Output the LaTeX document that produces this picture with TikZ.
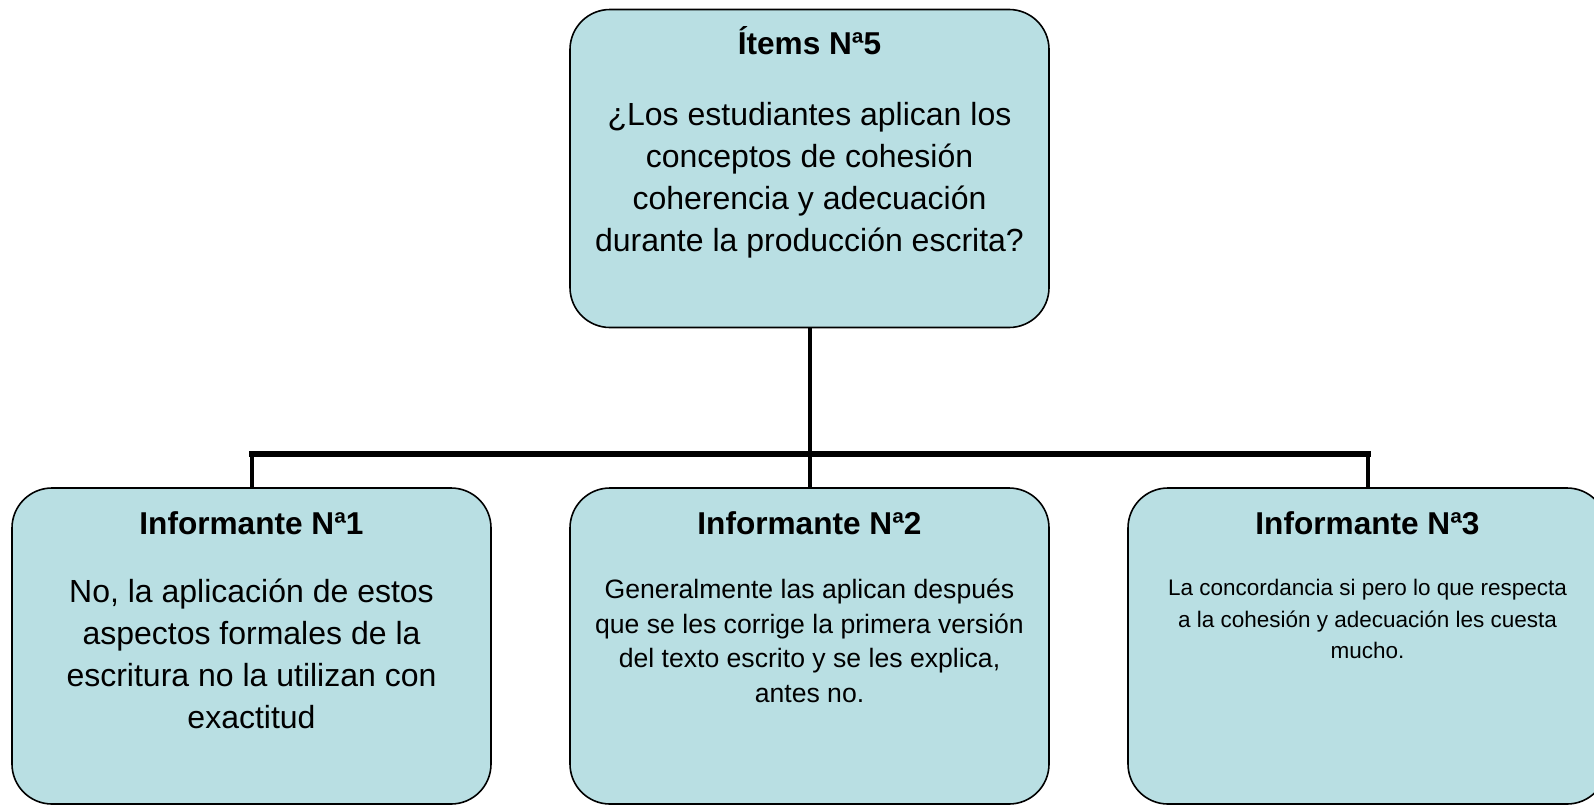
\documentclass[tikz,border=0pt]{standalone}
\usepackage{fontspec}
\setmainfont{Liberation Sans}
\usetikzlibrary{positioning}
\definecolor{boxfill}{RGB}{185,223,227}

\begin{document}
\begin{tikzpicture}[x=1pt, y=-1pt,
  box/.style={rectangle, rounded corners=40pt, draw, line width=1.6pt, fill=boxfill, minimum width=479pt, minimum height=318pt, inner sep=0pt},
  head/.style={font=\fontsize{31.6}{38}\selectfont\bfseries, anchor=base, inner sep=0pt},
  body/.style={align=center, anchor=north, inner sep=0pt},
  link/.style={line width=4pt},
  bar/.style={line width=6pt, line cap=rect}
]
\useasboundingbox (0,0) rectangle (1594,806);

% Boxes
\node[box] (item) at (809.5,168.5) {};
\node[box, minimum height=316pt] (inf1) at (251.5,646) {};
\node[box, minimum height=316pt] (inf2) at (809.5,646) {};
\node[box, minimum height=316pt] (inf3) at (1367.5,646) {};

% Titles
\node[head] (itemhead) at ([yshift=-46pt]item.north) {Ítems Nª5};
\node[head] (inf1head) at ([yshift=-47pt]inf1.north) {Informante Nª1};
\node[head] (inf2head) at ([yshift=-47pt]inf2.north) {Informante Nª2};
\node[head] (inf3head) at ([yshift=-47pt]inf3.north) {Informante Nª3};

% Texts
\node[body, font=\fontsize{32}{42}\selectfont] (itemtext) at ([yshift=-93pt]item.north)
  {¿Los estudiantes aplican los\\conceptos de cohesión\\coherencia y adecuación\\durante la producción escrita?};
\node[body, font=\fontsize{32}{42}\selectfont] (inf1text) at ([yshift=-92pt]inf1.north)
  {No, la aplicación de estos\\aspectos formales de la\\escritura no la utilizan con\\exactitud};
\node[body, font=\fontsize{26.6}{34.4}\selectfont] (inf2text) at ([yshift=-92pt]inf2.north)
  {Generalmente las aplican después\\que se les corrige la primera versión\\del texto escrito y se les explica,\\antes no.};
\node[body, font=\fontsize{22.5}{31.5}\selectfont] (inf3text) at ([yshift=-92pt]inf3.north)
  {La concordancia si pero lo que respecta\\a la cohesión y adecuación les cuesta\\mucho.};

% Connectors
\coordinate (fork) at (809.5,454);
\coordinate (left) at (inf1.north |- fork);
\coordinate (right) at (inf3.north |- fork);
\draw[link] (item.south) -- (fork);
\draw[bar] (left) -- (right);
\draw[link] (left) -- (inf1.north);
\draw[link] (fork) -- (inf2.north);
\draw[link] (right) -- (inf3.north);

\end{tikzpicture}
\end{document}
